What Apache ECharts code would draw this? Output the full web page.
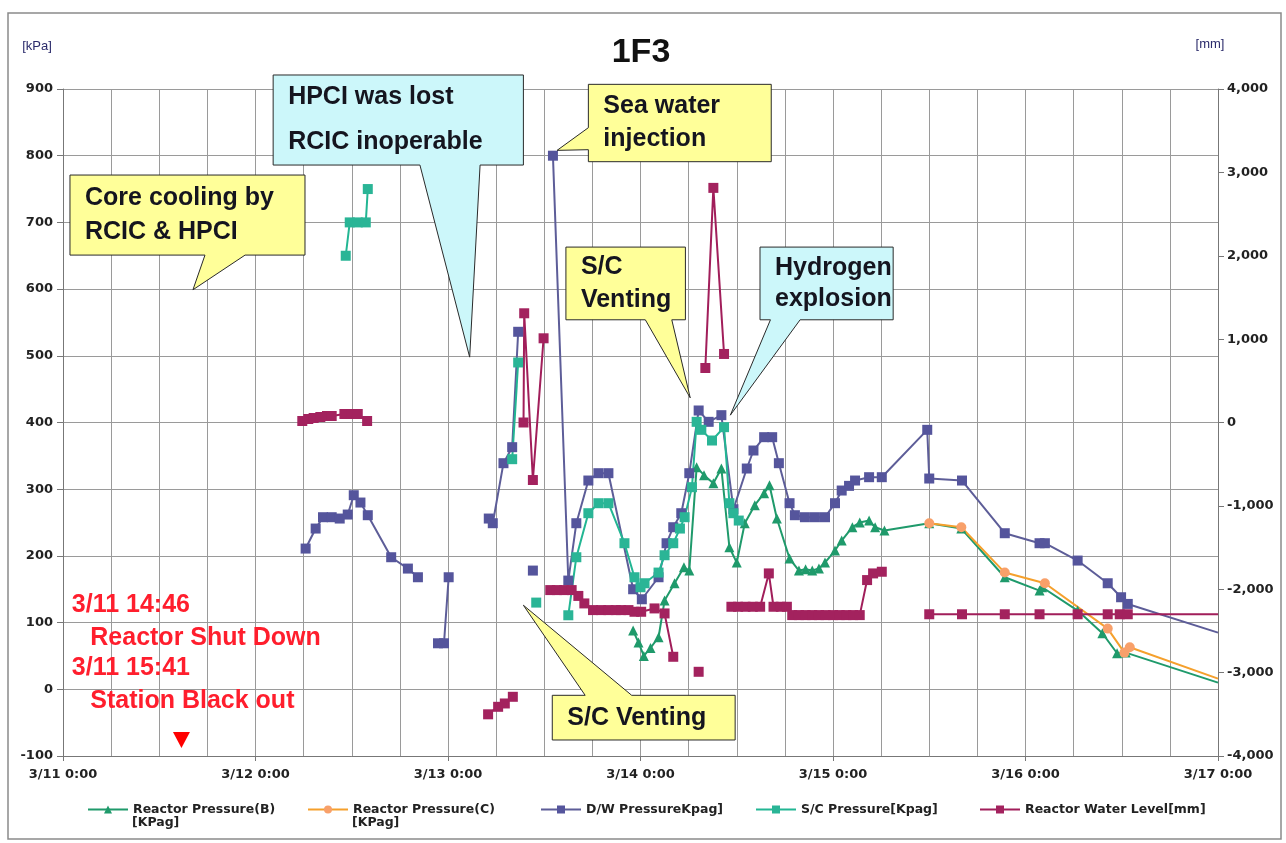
<!DOCTYPE html>
<html>
<head>
<meta charset="utf-8">
<title>1F3</title>
<script src="https://cdn.jsdelivr.net/npm/echarts@6/dist/echarts.min.js"></script>
<style>
  html, body { margin: 0; padding: 0; background: #ffffff; }
  #chart { width: 1286px; height: 843px; }
</style>
</head>
<body>
<div id="chart"></div>
<script>
// Time stamps are 'M/D HH:MM' (March 2011); the x axis counts hours from 3/11 0:00.
const dayLabels = ['3/11 0:00', '3/12 0:00', '3/13 0:00', '3/14 0:00', '3/15 0:00', '3/16 0:00', '3/17 0:00'];
const leftTicks = { min: -100, max: 900, step: 100 };     // kPa
const rightTicks = { min: -4000, max: 4000, step: 1000 }; // mm

// Reactor Pressure (B) [kPa g]
const pressureB = [
  [['3/13 23:05', 88], ['3/13 23:45', 70], ['3/14 00:25', 50], ['3/14 01:15', 62], ['3/14 02:15', 78],
   ['3/14 03:00', 133], ['3/14 04:15', 159], ['3/14 05:25', 183], ['3/14 06:05', 178], ['3/14 07:00', 333],
   ['3/14 07:55', 321], ['3/14 09:05', 309], ['3/14 10:05', 331], ['3/14 11:05', 213], ['3/14 12:00', 190],
   ['3/14 13:00', 249], ['3/14 14:15', 276], ['3/14 15:25', 294], ['3/14 16:05', 306], ['3/14 17:00', 256],
   ['3/14 18:35', 196], ['3/14 19:45', 178], ['3/14 20:35', 180], ['3/14 21:25', 178], ['3/14 22:15', 181],
   ['3/14 23:00', 190], ['3/15 00:15', 208], ['3/15 01:05', 223], ['3/15 02:25', 243], ['3/15 03:20', 250],
   ['3/15 04:30', 253], ['3/15 05:15', 243], ['3/15 06:25', 238], ['3/15 12:00', 249], ['3/15 16:00', 241],
   ['3/15 21:25', 168], ['3/16 01:45', 148], ['3/16 02:05', 153], ['3/16 06:30', 118], ['3/16 09:35', 84],
   ['3/16 11:25', 54], ['3/16 12:30', 55], ['3/17 00:00', 10]]
];

// Reactor Pressure (C) [kPa g]
const pressureC = [
  [['3/15 12:00', 249], ['3/15 16:00', 243], ['3/15 21:25', 175], ['3/16 02:25', 159], ['3/16 10:15', 91],
   ['3/16 12:20', 55], ['3/16 13:00', 63], ['3/17 00:00', 16]]
];

// D/W pressure [kPa g]
const dwPressure = [
  [['3/12 06:15', 211], ['3/12 07:30', 241], ['3/12 08:25', 258], ['3/12 09:30', 258], ['3/12 10:30', 256],
   ['3/12 11:30', 262], ['3/12 12:15', 291], ['3/12 13:05', 280], ['3/12 14:00', 261], ['3/12 16:55', 198],
   ['3/12 19:00', 181], ['3/12 20:15', 168]],
  [['3/12 22:45', 69], ['3/12 23:30', 69], ['3/13 00:05', 168]],
  [['3/13 05:05', 256], ['3/13 05:35', 249], ['3/13 06:55', 339], ['3/13 08:00', 363], ['3/13 08:45', 536]],
  [['3/13 10:35', 178]],
  [['3/13 13:05', 800], ['3/13 15:00', 163], ['3/13 16:00', 249], ['3/13 17:30', 313], ['3/13 18:45', 324],
   ['3/13 20:00', 324], ['3/13 23:05', 150], ['3/14 00:10', 135], ['3/14 02:15', 168], ['3/14 03:15', 219],
   ['3/14 04:05', 243], ['3/14 05:05', 264], ['3/14 06:05', 324], ['3/14 07:15', 418], ['3/14 08:30', 401],
   ['3/14 10:05', 411], ['3/14 11:35', 270], ['3/14 13:15', 331], ['3/14 14:05', 358], ['3/14 15:25', 378],
   ['3/14 16:25', 378], ['3/14 17:15', 339], ['3/14 18:35', 279], ['3/14 19:15', 261], ['3/14 20:30', 258],
   ['3/14 21:45', 258], ['3/14 23:00', 258], ['3/15 00:15', 279], ['3/15 01:05', 298], ['3/15 02:00', 305],
   ['3/15 02:45', 313], ['3/15 04:30', 318], ['3/15 06:05', 318], ['3/15 11:45', 389], ['3/15 12:00', 316],
   ['3/15 16:05', 313], ['3/15 21:25', 234], ['3/16 01:45', 219], ['3/16 02:25', 219], ['3/16 06:30', 193],
   ['3/16 10:15', 159], ['3/16 11:55', 138], ['3/16 12:45', 128], ['3/17 00:00', 85]]
];

// S/C pressure [kPa g]
const scPressure = [
  [['3/12 11:15', 650], ['3/12 11:45', 700], ['3/12 12:45', 700], ['3/12 13:45', 700], ['3/12 14:00', 750]],
  [['3/13 08:00', 345], ['3/13 08:45', 490]],
  [['3/13 11:00', 130]],
  [['3/13 15:00', 111], ['3/13 16:00', 198], ['3/13 17:30', 264], ['3/13 18:45', 279], ['3/13 20:00', 279],
   ['3/13 22:00', 219], ['3/13 23:15', 168], ['3/14 00:00', 153], ['3/14 00:30', 159], ['3/14 02:15', 175],
   ['3/14 03:00', 201], ['3/14 04:05', 219], ['3/14 04:55', 241], ['3/14 05:30', 258], ['3/14 06:25', 303],
   ['3/14 07:00', 401], ['3/14 07:35', 389], ['3/14 08:55', 373], ['3/14 10:25', 393], ['3/14 11:05', 279],
   ['3/14 11:35', 264], ['3/14 12:15', 253]]
];

// Reactor water level [mm]
const waterLevel = [
  [['3/12 05:50', 18], ['3/12 06:35', 42], ['3/12 07:15', 54], ['3/12 08:05', 66], ['3/12 08:55', 78],
   ['3/12 09:30', 78], ['3/12 11:05', 102], ['3/12 11:55', 102], ['3/12 12:45', 102], ['3/12 13:55', 18]],
  [['3/13 05:00', -3500], ['3/13 06:15', -3410], ['3/13 07:05', -3370], ['3/13 08:05', -3290]],
  [['3/13 09:25', 0], ['3/13 09:30', 1310], ['3/13 10:35', -690], ['3/13 11:55', 1010]],
  [['3/13 12:45', -2010], ['3/13 13:35', -2010], ['3/13 14:30', -2010], ['3/13 15:25', -2010], ['3/13 16:15', -2080],
   ['3/13 17:00', -2170], ['3/13 18:05', -2250], ['3/13 19:05', -2250], ['3/13 20:00', -2250], ['3/13 20:55', -2250],
   ['3/13 21:35', -2250], ['3/13 22:30', -2250], ['3/13 23:15', -2270], ['3/14 00:05', -2270], ['3/14 01:45', -2230],
   ['3/14 03:00', -2290], ['3/14 04:05', -2810]],
  [['3/14 07:15', -2990]],
  [['3/14 08:05', 654], ['3/14 09:05', 2814], ['3/14 10:25', 822]],
  [['3/14 11:20', -2210], ['3/14 12:10', -2210], ['3/14 13:05', -2210], ['3/14 14:00', -2210], ['3/14 14:55', -2210],
   ['3/14 16:00', -1810], ['3/14 16:35', -2210], ['3/14 17:30', -2210], ['3/14 18:15', -2210], ['3/14 18:55', -2310],
   ['3/14 19:45', -2310], ['3/14 20:35', -2310], ['3/14 21:25', -2310], ['3/14 22:15', -2310], ['3/14 23:05', -2310],
   ['3/15 00:00', -2310], ['3/15 00:50', -2310], ['3/15 01:40', -2310], ['3/15 02:30', -2310], ['3/15 03:20', -2310],
   ['3/15 04:15', -1890], ['3/15 05:00', -1810], ['3/15 06:05', -1790]],
  [['3/15 12:00', -2300], ['3/15 16:05', -2300], ['3/15 21:25', -2300], ['3/16 01:45', -2300], ['3/16 06:30', -2300],
   ['3/16 10:15', -2300], ['3/16 11:45', -2300], ['3/16 12:45', -2300], ['3/17 00:00', -2300]]
];

const X_MAX = (dayLabels.length - 1) * 24;

function toHours(stamp) {
  const [md, hm] = stamp.split(' ');
  const day = Number(md.split('/')[1]);
  const [h, m] = hm.split(':').map(Number);
  return (day - 11) * 24 + h + m / 60;
}

const AXIS_FONT = 'DejaVu Sans';
const BOX_FONT = 'Liberation Sans';

const seriesDefs = [
  { name: 'Reactor Pressure(B)', unit: '[KPag]', segments: pressureB, y: 0, line: '#1f9a6b', marker: '#1f9a6b', symbol: 'triangle', size: 10 },
  { name: 'Reactor Pressure(C)', unit: '[KPag]', segments: pressureC, y: 0, line: '#f5a02c', marker: '#f8a06a', symbol: 'circle', size: 10 },
  { name: 'D/W PressureKpag]', segments: dwPressure, y: 0, line: '#5d5d98', marker: '#55559c', symbol: 'rect', size: 10 },
  { name: 'S/C Pressure[Kpag]', segments: scPressure, y: 0, line: '#22b693', marker: '#2ab596', symbol: 'rect', size: 10 },
  { name: 'Reactor Water Level[mm]', segments: waterLevel, y: 1, line: '#a11e5a', marker: '#a3225e', symbol: 'rect', size: 10 }
];

const series = [];
seriesDefs.forEach(def => {
  def.segments.forEach(seg => {
    series.push({
      type: 'line',
      name: def.name,
      xAxisIndex: 0,
      yAxisIndex: def.y,
      symbol: def.symbol,
      symbolSize: def.size,
      showSymbol: true,
      lineStyle: { color: def.line, width: 2 },
      itemStyle: { color: def.marker, borderColor: def.marker, borderWidth: 0 },
      emphasis: { disabled: true },
      silent: true,
      data: seg.map(([stamp, v]) => {
        const t = toHours(stamp);
        // the trace runs on past the right edge: no marker at the axis end
        return t >= X_MAX ? { value: [t, v], symbol: 'none' } : [t, v];
      })
    });
  });
});

// legend: one block per series, laid out along the bottom
const LEGEND_TOP = 803;
const LEGEND_ICON_W = 40;
const LEGEND_FONT_SIZE = 12.5;
const legendLeft = [87, 307, 540, 755, 979];
const legends = seriesDefs.map((def, i) => ({
  data: [def.name],
  left: legendLeft[i],
  top: LEGEND_TOP,
  padding: 0,
  itemWidth: LEGEND_ICON_W,
  itemHeight: 10,
  selectedMode: false,
  textStyle: { fontFamily: AXIS_FONT, fontWeight: 'bold', fontSize: LEGEND_FONT_SIZE, color: '#222' }
}));

const chart = echarts.init(document.getElementById('chart'));

chart.setOption({
  animation: false,
  backgroundColor: '#ffffff',
  title: {
    text: '1F3',
    left: 636,
    top: 31,
    textAlign: 'center',
    textStyle: { fontFamily: BOX_FONT, fontWeight: 'bold', fontSize: 34, color: '#111' }
  },
  legend: legends,
  grid: { left: 63, right: 68, top: 89, bottom: 87, containLabel: false },
  xAxis: [
    {
      type: 'value', min: 0, max: X_MAX, interval: 6,
      axisLine: { show: false }, axisTick: { show: false }, axisLabel: { show: false },
      splitLine: { show: true, lineStyle: { color: '#9a9a9a', width: 1 } }
    },
    {
      type: 'value', min: 0, max: X_MAX, interval: 24, position: 'bottom',
      axisLine: { show: true, onZero: false, lineStyle: { color: '#777', width: 1 } },
      axisTick: { show: true, length: 5, lineStyle: { color: '#777' } },
      axisLabel: {
        margin: 12,
        formatter: v => dayLabels[Math.round(v / 24)] || '',
        fontFamily: AXIS_FONT, fontWeight: 'bold', fontSize: 13, color: '#222'
      },
      splitLine: { show: false }
    }
  ],
  yAxis: [
    {
      type: 'value', min: leftTicks.min, max: leftTicks.max, interval: leftTicks.step, position: 'left',
      name: '[kPa]', nameLocation: 'end', nameGap: 36,
      nameTextStyle: { fontFamily: BOX_FONT, fontSize: 13, color: '#2b2b6b', align: 'center', padding: [0, 52, 0, 0] },
      axisLine: { show: true, onZero: false, lineStyle: { color: '#777', width: 1 } },
      axisTick: { show: true, length: 6, lineStyle: { color: '#777' } },
      axisLabel: { margin: 10, fontFamily: AXIS_FONT, fontWeight: 'bold', fontSize: 13, color: '#222' },
      splitLine: { show: true, lineStyle: { color: '#9a9a9a', width: 1 } }
    },
    {
      type: 'value', min: rightTicks.min, max: rightTicks.max, interval: rightTicks.step, position: 'right',
      name: '[mm]', nameLocation: 'end', nameGap: 38,
      nameTextStyle: { fontFamily: BOX_FONT, fontSize: 13, color: '#2b2b6b', align: 'center', padding: [0, 16, 0, 0] },
      axisLine: { show: true, onZero: false, lineStyle: { color: '#777', width: 1 } },
      axisTick: { show: true, length: 6, lineStyle: { color: '#777' } },
      axisLabel: {
        margin: 9,
        formatter: v => v.toLocaleString('en-US'),
        fontFamily: AXIS_FONT, fontWeight: 'bold', fontSize: 13, color: '#222'
      },
      splitLine: { show: false }
    }
  ],
  series: series
});

// ---- callouts and notes, placed in data coordinates (hours, kPa) ----
const YELLOW = '#ffff99';
const CYAN = '#ccf7fa';
const callouts = [
  { lines: ['Core cooling by', 'RCIC & HPCI'], fill: YELLOW, box: [0.87, 771, 30.17, 651], lineGap: 34,
    side: 'bottom', base: [17.7, 22.7], tip: [16.2, 599] },
  { lines: ['HPCI was lost', 'RCIC inoperable'], fill: CYAN, box: [26.2, 921, 57.4, 786], lineGap: 45,
    side: 'bottom', base: [44.5, 52.0], tip: [50.7, 498] },
  { lines: ['Sea water', 'injection'], fill: YELLOW, box: [65.5, 907, 88.3, 791], lineGap: 33,
    side: 'left', base: [842, 809], tip: [61.6, 808] },
  { lines: ['S/C', 'Venting'], fill: YELLOW, box: [62.7, 663, 77.6, 554], lineGap: 33,
    side: 'bottom', base: [72.6, 75.9], tip: [78.2, 437] },
  { lines: ['Hydrogen', 'explosion'], fill: CYAN, box: [86.9, 663, 103.5, 554], lineGap: 31,
    side: 'bottom', base: [88.2, 91.9], tip: [83.2, 411] },
  { lines: ['S/C Venting'], fill: YELLOW, box: [61.0, -9, 83.8, -76], lineGap: 0,
    side: 'top', base: [65.1, 70.9], tip: [57.4, 126] }
];

const notes = [
  { text: '3/11 14:46', at: [1.1, 126] },
  { text: 'Reactor Shut Down', at: [3.4, 77] },
  { text: '3/11 15:41', at: [1.1, 32] },
  { text: 'Station Black out', at: [3.4, -17] }
];
const shutdownMark = { at: ['3/11 14:46', -88] };

function px(t, k) {
  return chart.convertToPixel({ xAxisIndex: 0, yAxisIndex: 0 }, [t, k]);
}

function buildGraphics() {
  const els = [];
  // outer frame
  els.push({
    type: 'rect', shape: { x: 8, y: 13, width: 1273, height: 826 },
    style: { fill: 'none', stroke: '#8a8a8a', lineWidth: 1.5 }, z: 1, silent: true
  });

  // second line of the two-line legend entries, under the first
  seriesDefs.forEach((def, i) => {
    if (!def.unit) return;
    els.push({
      type: 'text', z: 5, silent: true,
      style: {
        text: def.unit, x: legendLeft[i] + LEGEND_ICON_W + 5, y: LEGEND_TOP + 5 + 15,
        font: 'bold ' + LEGEND_FONT_SIZE + 'px "' + AXIS_FONT + '"', fill: '#222',
        align: 'left', verticalAlign: 'middle', textAlign: 'left', textVerticalAlign: 'middle'
      }
    });
  });

  callouts.forEach(c => {
    const [x0, y0] = px(c.box[0], c.box[1]);
    const [x1, y1] = px(c.box[2], c.box[3]);
    const tip = px(c.tip[0], c.tip[1]);
    let pts;
    if (c.side === 'bottom') {
      const a = px(c.base[0], 0)[0], b = px(c.base[1], 0)[0];
      pts = [[x0, y0], [x1, y0], [x1, y1], [b, y1], tip, [a, y1], [x0, y1]];
    } else if (c.side === 'left') {
      const a = px(0, c.base[0])[1], b = px(0, c.base[1])[1];
      pts = [[x0, y0], [x1, y0], [x1, y1], [x0, y1], [x0, b], tip, [x0, a]];
    } else {
      const a = px(c.base[0], 0)[0], b = px(c.base[1], 0)[0];
      pts = [[x0, y0], [a, y0], tip, [b, y0], [x1, y0], [x1, y1], [x0, y1]];
    }
    els.push({
      type: 'polygon', shape: { points: pts },
      style: { fill: c.fill, stroke: '#2a2a2a', lineWidth: 1 }, z: 50, silent: true
    });
    const cy = (y0 + y1) / 2;
    const n = c.lines.length;
    c.lines.forEach((line, i) => {
      els.push({
        type: 'text', z: 51, silent: true,
        style: {
          text: line, x: x0 + 15, y: cy + (i - (n - 1) / 2) * c.lineGap,
          font: 'bold 25px "' + BOX_FONT + '"', fill: '#15151f',
          align: 'left', verticalAlign: 'middle', textAlign: 'left', textVerticalAlign: 'middle'
        }
      });
    });
  });

  notes.forEach(n => {
    const [x, y] = px(n.at[0], n.at[1]);
    els.push({
      type: 'text', z: 40, silent: true,
      style: {
        text: n.text, x: x, y: y,
        font: 'bold 25px "' + BOX_FONT + '"', fill: '#ff1e2d',
        align: 'left', verticalAlign: 'middle', textAlign: 'left', textVerticalAlign: 'middle'
      }
    });
  });

  const [mx, my] = px(toHours(shutdownMark.at[0]), shutdownMark.at[1]);
  els.push({
    type: 'polygon', z: 40, silent: true,
    shape: { points: [[mx - 8.5, my - 16], [mx + 8.5, my - 16], [mx, my]] },
    style: { fill: '#ff0000' }
  });
  return els;
}

chart.setOption({ graphic: buildGraphics() });
</script>
</body>
</html>
